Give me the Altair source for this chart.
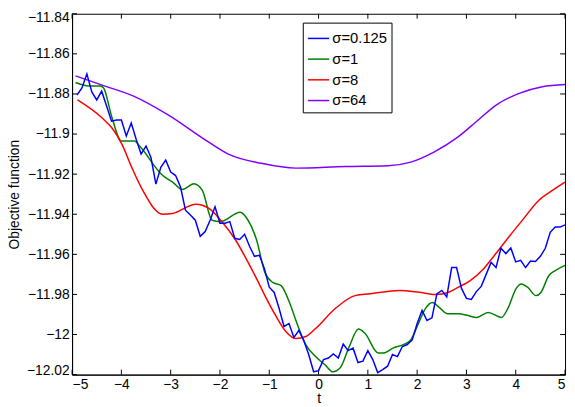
import altair as alt
import pandas as pd

series_labels = ["σ=0.125", "σ=1", "σ=8", "σ=64"]
series_colors = ["#0000ff", "#008000", "#ff0000", "#8000ff"]

blue_t = [-4.9, -4.8, -4.7, -4.6, -4.5, -4.4, -4.3, -4.2, -4.1, -4.0,
          -3.9, -3.8, -3.7, -3.6, -3.5, -3.4, -3.3, -3.2, -3.1, -3.0,
          -2.9, -2.8, -2.7, -2.6, -2.5, -2.4, -2.3, -2.2, -2.1, -2.0,
          -1.9, -1.8, -1.7, -1.6, -1.5, -1.4, -1.3, -1.2, -1.1, -1.0,
          -0.9, -0.8, -0.7, -0.6, -0.5, -0.4, -0.3, -0.2, -0.1, 0.0,
          0.1, 0.2, 0.3, 0.4, 0.5, 0.6, 0.7, 0.8, 0.9, 1.0,
          1.1, 1.2, 1.3, 1.4, 1.5, 1.6, 1.7, 1.8, 1.9, 2.0,
          2.1, 2.2, 2.3, 2.4, 2.5, 2.6, 2.7, 2.8, 2.9, 3.0,
          3.1, 3.2, 3.3, 3.4, 3.5, 3.6, 3.7, 3.8, 3.9, 4.0,
          4.1, 4.2, 4.3, 4.4, 4.5, 4.6, 4.7, 4.8, 4.9, 5.0]
blue_f = [-11.8805, -11.877, -11.870, -11.879, -11.883, -11.8786, -11.886, -11.8936, -11.893, -11.893,
          -11.901, -11.8945, -11.9026, -11.910, -11.906, -11.9117, -11.925, -11.9166, -11.913, -11.919,
          -11.9207, -11.9264, -11.938, -11.9404, -11.943, -11.951, -11.9486, -11.943, -11.9363, -11.9445,
          -11.9445, -11.9437, -11.952, -11.9526, -11.950, -11.956, -11.961, -11.9605, -11.967, -11.9764,
          -11.979, -11.987, -11.996, -11.9945, -12.0015, -11.998, -12.003, -12.010, -12.0186, -12.018,
          -12.0125, -12.0117, -12.0097, -12.0117, -12.0048, -12.008, -12.0068, -12.014, -12.0133, -12.008,
          -12.0125, -12.019, -12.0175, -12.0158, -12.010, -12.011, -12.006, -12.005, -12.0027, -11.9945,
          -11.988, -11.993, -11.9917, -11.9797, -11.978, -11.9813, -11.9666, -11.9666, -11.977, -11.982,
          -11.9825, -11.9786, -11.976, -11.970, -11.964, -11.9666, -11.957, -11.9596, -11.9568, -11.9638,
          -11.963, -11.9666, -11.9633, -11.9636, -11.961, -11.957, -11.949, -11.9464, -11.9464, -11.9453]

green_t = [-4.93, -4.66, -4.43, -4.36, -4.2, -4.0, -3.73, -3.63, -3.16, -2.96, -2.76, -2.53,
           -2.36, -2.16, -1.99, -1.59, -1.43, -1.26, -1.09, -0.93, -0.76, -0.59, -0.43, -0.26,
           -0.06, 0.14, 0.29, 0.44, 0.61, 0.81, 0.94, 1.21, 1.31, 1.51, 1.74, 1.87, 2.04, 2.17,
           2.31, 2.44, 2.61, 2.84, 3.01, 3.21, 3.44, 3.71, 3.84, 4.01, 4.11, 4.24, 4.41, 4.51,
           4.67, 4.81, 5.0]
green_f = [-11.8743, -11.876, -11.876, -11.877, -11.891, -11.9035, -11.9035, -11.906, -11.9207,
           -11.924, -11.9277, -11.9248, -11.928, -11.943, -11.9437, -11.939, -11.943, -11.9526,
           -11.969, -11.974, -11.9756, -11.984, -11.995, -12.005, -12.011, -12.0153, -12.0186,
           -12.0166, -12.0068, -11.9973, -11.9994, -12.0092, -12.0092, -12.0068, -12.0048,
           -12.0027, -11.9937, -11.987, -11.984, -11.9863, -11.9896, -11.9896, -11.9904, -11.9915,
           -11.989, -11.9915, -11.987, -11.977, -11.9748, -11.9764, -11.9806, -11.979, -11.9707,
           -11.968, -11.9655]

red_t = [-4.89, -4.39, -4.19, -3.99, -3.79, -3.59, -3.16, -2.96, -2.49, -2.23, -1.96, -1.69,
         -1.43, -1.26, -1.06, -0.86, -0.66, -0.46, -0.26, -0.06, 0.34, 0.74, 1.04, 1.64, 2.04,
         2.37, 2.64, 2.84, 3.07, 3.34, 3.61, 3.87, 4.14, 4.47, 4.75, 5.0]
red_f = [-11.883, -11.892, -11.897, -11.905, -11.9166, -11.927, -11.940, -11.9396, -11.935,
         -11.937, -11.9437, -11.9526, -11.964, -11.972, -11.982, -11.991, -11.9986, -12.002,
         -12.001, -11.997, -11.987, -11.9806, -11.9797, -11.978, -11.9789, -11.980, -11.9789,
         -11.9764, -11.9732, -11.9674, -11.9592, -11.951, -11.9428, -11.933, -11.928, -11.924]

purple_t = [-4.93, -4.39, -3.73, -3.06, -2.26, -1.83, -1.16, -0.46, 0.54, 1.41, 1.87, 2.34,
            2.81, 3.21, 3.61, 4.07, 4.54, 5.0]
purple_f = [-11.871, -11.8756, -11.8813, -11.8903, -11.9035, -11.910, -11.9146, -11.917,
            -11.9162, -11.9158, -11.914, -11.909, -11.9018, -11.8936, -11.8854, -11.8797,
            -11.8764, -11.8753]

y_ticks = [-11.84, -11.86, -11.88, -11.9, -11.92, -11.94, -11.96, -11.98, -12.0, -12.02]
x_ticks = [-5, -4, -3, -2, -1, 0, 1, 2, 3, 4, 5]

W, H = 500, 366
FONT = "Liberation Sans"

rows = []
for lab, ts, fs in zip(series_labels, [blue_t, green_t, red_t, purple_t],
                       [blue_f, green_f, red_f, purple_f]):
    for i, (t, f) in enumerate(zip(ts, fs)):
        rows.append({"t": t, "f": f, "s": lab, "o": i})
df = pd.DataFrame(rows)

xscale = alt.Scale(domain=[-5, 5], nice=False, zero=False)
yscale = alt.Scale(domain=[-12.02, -11.84], nice=False, zero=False)

color = alt.Color(
    "s:N",
    scale=alt.Scale(domain=series_labels, range=series_colors),
    legend=alt.Legend(
        title=None, orient="none", legendX=234, legendY=9,
        symbolType="stroke", symbolSize=470, symbolStrokeWidth=1.5,
        labelFont=FONT, labelFontSize=15, labelColor="black", labelOffset=2,
        rowPadding=1, padding=4, strokeColor="black", fillColor="white",
        cornerRadius=0,
    ),
)

xenc = alt.X("t:Q", scale=xscale, axis=alt.Axis(
    values=x_ticks, format="d", title="t", titleY=24, titleBaseline="middle",
    labelPadding=3))
yenc = alt.Y("f:Q", scale=yscale, axis=alt.Axis(
    values=y_ticks, format="~g", title="Objective function",
    labelFlush=True, labelFlushOffset=3, labelPadding=3,
    titleX=-58, titleY=H / 2, titleAlign="center", titleBaseline="middle", titleAngle=270))

blue_layer = alt.Chart(df[df.s == series_labels[0]]).mark_line(
    strokeWidth=1.5, clip=True).encode(x=xenc, y=yenc, color=color, order="o:Q")
smooth_layer = alt.Chart(df[df.s != series_labels[0]]).mark_line(
    strokeWidth=1.5, interpolate="monotone", clip=True).encode(
    x=xenc, y=yenc, color=color, order="o:Q")

ydf = pd.DataFrame({"v": y_ticks})
xdf = pd.DataFrame({"v": x_ticks})
yl = alt.Chart(ydf).mark_rule(color="black", strokeWidth=1).encode(
    y=alt.Y("v:Q", scale=yscale), x=alt.value(0), x2=alt.value(5))
yr = alt.Chart(ydf).mark_rule(color="black", strokeWidth=1).encode(
    y=alt.Y("v:Q", scale=yscale), x=alt.value(W - 5), x2=alt.value(W))
xb = alt.Chart(xdf).mark_rule(color="black", strokeWidth=1).encode(
    x=alt.X("v:Q", scale=xscale), y=alt.value(H - 5), y2=alt.value(H))
xt = alt.Chart(xdf).mark_rule(color="black", strokeWidth=1).encode(
    x=alt.X("v:Q", scale=xscale), y=alt.value(0), y2=alt.value(5))

chart = alt.layer(yl, yr, xb, xt, smooth_layer, blue_layer).properties(
    width=W, height=H,
    background="white",
    autosize=alt.AutoSizeParams(type="none"),
    padding={"left": 65, "top": 3, "right": 2, "bottom": 30},
).configure_view(
    stroke="black", strokeWidth=1, fill="white"
).configure_axis(
    grid=False, ticks=False, domainColor="black", domainWidth=1,
    labelFont=FONT, labelFontSize=14, labelColor="black",
    titleFont=FONT, titleFontSize=14, titleFontWeight="normal", titleColor="black",
)

chart.save("out.html", embed_options={"renderer": "svg", "actions": False})
